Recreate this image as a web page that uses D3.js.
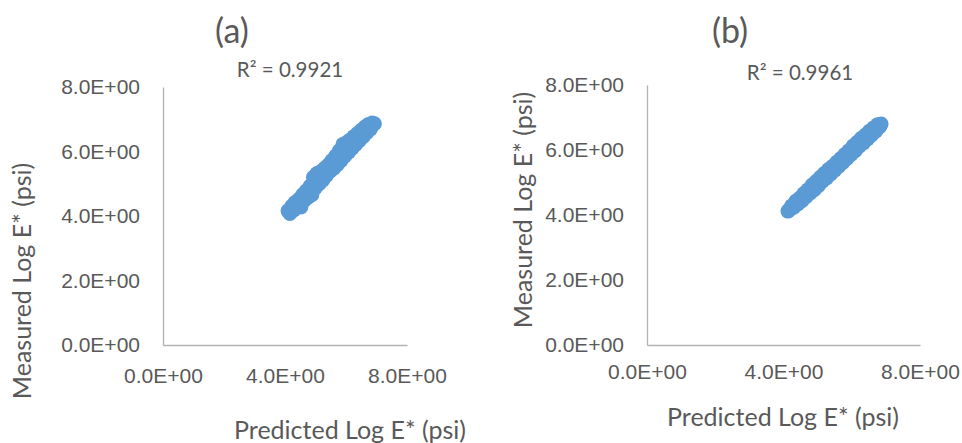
<!DOCTYPE html>
<html>
<head>
<meta charset="utf-8">
<script src="https://cdn.jsdelivr.net/npm/d3@7"></script>
<style>
  body { margin: 0; background: #fff; }
  svg { display: block; font-family: Lato, "Open Sans", sans-serif; }
  .tick text { fill: #595959; }
</style>
</head>
<body>
<div id="chart"></div>
<script>
var width = 962, height = 443;

// panel (a) values
var predictedA = [4.10,4.16,4.22,4.28,4.33,4.40,4.46,4.52,4.58,4.63,4.70,4.76,4.82,4.88,4.93,5.00,5.05,5.12,5.18,5.24,5.30,5.36,5.42,5.48,5.54,5.60,5.66,5.72,5.78,5.84,5.90,5.96,6.02,6.08,6.14,6.20,6.26,6.32,6.38,6.44,6.50,6.56,6.62,6.68,6.74,6.80,6.86,6.93];
var measuredA  = [4.16,4.08,4.30,4.18,4.42,4.30,4.52,4.28,4.66,4.48,4.78,4.58,4.92,4.66,5.20,4.88,5.32,5.00,5.38,5.12,5.48,5.26,5.58,5.40,5.72,5.48,5.86,5.60,6.02,5.72,6.22,5.86,6.28,5.98,6.36,6.10,6.46,6.22,6.56,6.34,6.66,6.46,6.76,6.58,6.84,6.70,6.88,6.86];

// panel (b)
var predictedB = [4.13,4.18,4.24,4.30,4.36,4.42,4.48,4.54,4.60,4.66,4.72,4.78,4.84,4.90,4.96,5.02,5.08,5.14,5.20,5.26,5.32,5.38,5.44,5.50,5.56,5.62,5.68,5.74,5.80,5.86,5.92,5.98,6.04,6.10,6.16,6.22,6.28,6.34,6.40,6.46,6.52,6.58,6.64,6.70,6.76,6.82,6.86];
var measuredB  = [4.12,4.16,4.28,4.24,4.42,4.34,4.52,4.44,4.66,4.56,4.78,4.68,4.92,4.78,5.04,4.90,5.16,5.04,5.28,5.14,5.40,5.26,5.50,5.38,5.62,5.50,5.74,5.62,5.86,5.74,5.98,5.86,6.12,5.98,6.24,6.12,6.36,6.22,6.46,6.34,6.58,6.46,6.68,6.58,6.78,6.72,6.80];

var xTicks = [0, 4, 8];
var yTicks = [0, 2, 4, 6, 8];
var panelTitles = ["(a)", "(b)"];
var r2Labels = ["R\u00b2 = 0.9921", "R\u00b2 = 0.9961"];
var xTitle = "Predicted Log E* (psi)";
var yTitle = "Measured Log E* (psi)";

var fmt = function(d) { return d.toFixed(1) + "E+00"; };

var svg = d3.select("#chart").append("svg")
  .attr("width", width)
  .attr("height", height);

var panels = [
  {pred: predictedA, meas: measuredA, x0: 163, x1: 407, yTop: 87, yBot: 345,
   title: [232, 43], r2: [290, 77], xt: [350, 439], yt: [22, 281], xtickY: 23},
  {pred: predictedB, meas: measuredB, x0: 647, x1: 920, yTop: 85, yBot: 345,
   title: [730, 43], r2: [800, 80], xt: [783, 426], yt: [523, 210], xtickY: 19}
];

panels.forEach(function(p, i) {
  var x = d3.scaleLinear().domain([0, 8]).range([p.x0, p.x1]);
  var y = d3.scaleLinear().domain([0, 8]).range([p.yBot, p.yTop]);

  var g = svg.append("g");

  // axes
  g.append("g")
    .attr("transform", "translate(0," + p.yBot + ")")
    .call(d3.axisBottom(x).tickValues(xTicks).tickFormat(fmt).tickSize(0).tickPadding(p.xtickY))
    .call(function(a) {
      a.select(".domain").attr("stroke", "#b3b3b3").attr("stroke-width", 1.3);
      a.selectAll("text").style("font-size", "21px");
    });

  g.append("g")
    .attr("transform", "translate(" + p.x0 + ",0)")
    .call(d3.axisLeft(y).tickValues(yTicks).tickFormat(fmt).tickSize(0).tickPadding(23))
    .call(function(a) {
      a.select(".domain").attr("stroke", "#b3b3b3").attr("stroke-width", 1.3);
      a.selectAll("text").style("font-size", "21px");
    });

  // points
  g.append("g").selectAll("circle")
    .data(d3.zip(p.pred, p.meas))
    .enter().append("circle")
      .attr("cx", function(d) { return x(d[0]); })
      .attr("cy", function(d) { return y(d[1]); })
      .attr("r", 7.5)
      .attr("fill", "#5b9bd5");

  // texts
  g.append("text")
    .attr("x", p.title[0]).attr("y", p.title[1])
    .attr("text-anchor", "middle")
    .style("font-size", "34px").style("fill", "#595959")
    .text(panelTitles[i]);

  g.append("text")
    .attr("x", p.r2[0]).attr("y", p.r2[1])
    .attr("text-anchor", "middle")
    .style("font-size", "20.5px").style("fill", "#595959")
    .text(r2Labels[i]);

  g.append("text")
    .attr("x", p.xt[0]).attr("y", p.xt[1])
    .attr("text-anchor", "middle")
    .style("font-size", "25px").style("fill", "#595959")
    .text(xTitle);

  g.append("text")
    .attr("transform", "translate(" + p.yt[0] + "," + p.yt[1] + ") rotate(-90)")
    .attr("text-anchor", "middle")
    .attr("dy", "0.35em")
    .style("font-size", "25px").style("fill", "#595959")
    .text(yTitle);
});
</script>
</body>
</html>
